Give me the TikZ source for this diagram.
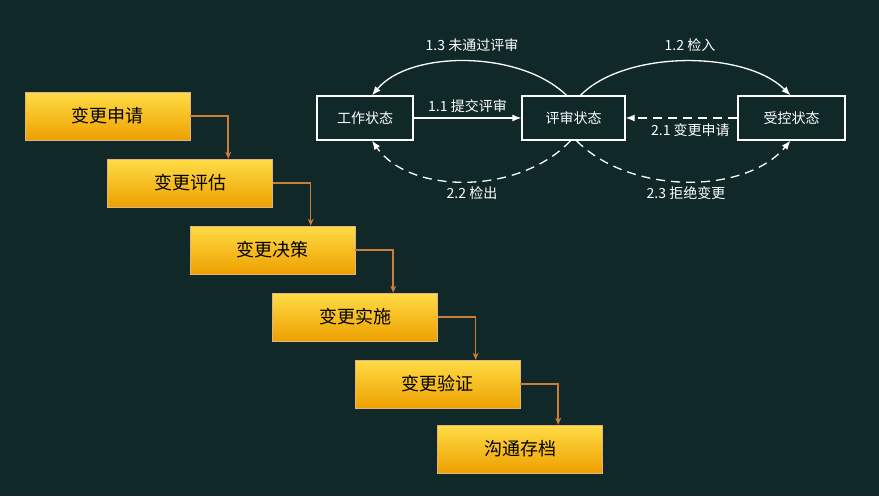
\documentclass[tikz,border=0pt]{standalone}
\usepackage{fontspec}
\setmainfont{Noto Sans CJK SC}
\usetikzlibrary{arrows.meta,positioning}
\definecolor{bgcolor}{RGB}{16,40,40}
\definecolor{stepline}{RGB}{205,125,55}
\definecolor{steptop}{RGB}{255,220,70}
\definecolor{stepbot}{RGB}{238,160,0}
\tikzset{
  stepbox/.style={draw=stepline!60!white,line width=0.6pt,top color=steptop,bottom color=stepbot,
    minimum width=165pt,minimum height=48pt,font=\fontsize{18}{18}\selectfont,text=black},
  statebox/.style={draw=white,line width=1.3pt,minimum width=96pt,minimum height=44pt,
    font=\fontsize{14}{14}\selectfont,text=white},
  steparrow/.style={stepline,line width=1.5pt,-{Stealth[length=7pt,width=6pt]}},
  statearrow/.style={white,line width=1.3pt,-{Latex[length=9pt,width=7pt]}},
  dashline/.style={dash pattern=on 9pt off 6pt},
  lbl/.style={text=white,font=\fontsize{14}{14}\selectfont}
}
\begin{document}
\begin{tikzpicture}[x=1pt,y=-1pt]
\fill[bgcolor] (0,0) rectangle (879,496);
\useasboundingbox (0,0) rectangle (879,496);
% change steps
\node[stepbox] (s1) at (107.5,116) {变更申请};
\node[stepbox] (s2) at (190,183) {变更评估};
\node[stepbox] (s3) at (272.5,250) {变更决策};
\node[stepbox] (s4) at (355,317) {变更实施};
\node[stepbox] (s5) at (437.5,384) {变更验证};
\node[stepbox] (s6) at (520,449) {沟通存档};
\foreach \a/\b in {s1/s2,s2/s3,s3/s4,s4/s5,s5/s6}
  \draw[steparrow] (\a.east) -| ([xshift=121pt]\b.north west);
% states
\node[statebox] (work) at (365,118) {工作状态};
\node[statebox,minimum width=103pt] (review) at (573.5,118) {评审状态};
\node[statebox,minimum width=107pt] (ctrl) at (791.5,118) {受控状态};
\draw[statearrow] (work) -- (review) node[lbl,midway,above=1pt] {1.1 提交评审};
\draw[statearrow,dashline] (ctrl) -- (review) node[lbl,pos=0.42,below=2pt] {2.1 变更申请};
\draw[statearrow] ([xshift=-7pt]review.north) .. controls (520,50) and (410,50) .. ([xshift=7pt]work.north);
\draw[statearrow] ([xshift=7pt]review.north) .. controls (625,50) and (745,50) .. ([xshift=-1pt]ctrl.north);
\draw[statearrow,dashline] ([xshift=-3pt]review.south) .. controls (520,195) and (410,195) .. ([xshift=7pt]work.south);
\draw[statearrow,dashline] ([xshift=3pt]review.south) .. controls (630,195) and (745,195) .. ([xshift=-1pt]ctrl.south);
\node[lbl] (l13) at (472,45) {1.3 未通过评审};
\node[lbl] (l12) at (690,45) {1.2 检入};
\node[lbl] (l22) at (472,193) {2.2 检出};
\node[lbl] (l23) at (686,193) {2.3 拒绝变更};
\end{tikzpicture}
\end{document}
